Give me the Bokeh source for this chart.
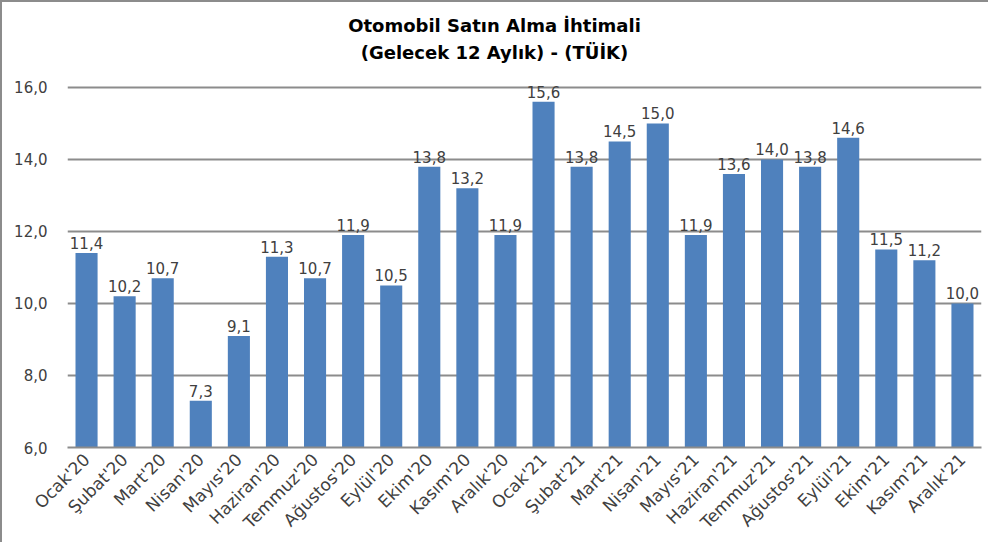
import math
from bokeh.plotting import figure
from bokeh.models import ColumnDataSource, LabelSet, Label, FixedTicker, CustomJSTickFormatter, Range1d
from bokeh.core.properties import value
from bokeh.embed import file_html
from bokeh.resources import INLINE

months = ["Ocak'20", "Şubat'20", "Mart'20", "Nisan'20", "Mayıs'20", "Haziran'20",
          "Temmuz'20", "Ağustos'20", "Eylül'20", "Ekim'20", "Kasım'20", "Aralık'20",
          "Ocak'21", "Şubat'21", "Mart'21", "Nisan'21", "Mayıs'21", "Haziran'21",
          "Temmuz'21", "Ağustos'21", "Eylül'21", "Ekim'21", "Kasım'21", "Aralık'21"]
values = [11.4, 10.2, 10.7, 7.3, 9.1, 11.3, 10.7, 11.9, 10.5, 13.8, 13.2, 11.9,
          15.6, 13.8, 14.5, 15.0, 11.9, 13.6, 14.0, 13.8, 14.6, 11.5, 11.2, 10.0]
y_ticks = [6, 8, 10, 12, 14, 16]
title_lines = ["Otomobil Satın Alma İhtimali", "(Gelecek 12 Aylık) - (TÜİK)"]

FONT = "DejaVu Sans"
TXT = "#404040"
GRID = "#8c8c8c"

labels = [f"{v:.1f}".replace(".", ",") for v in values]
src = ColumnDataSource(dict(x=months, top=values, lab=labels))

# frame extends up to the top of the figure so the title can sit inside it
p = figure(x_range=months, y_range=Range1d(6, 18.36), width=988, height=542,
           output_backend="svg", toolbar_location=None,
           min_border_left=65, min_border_right=9, min_border_top=0, min_border_bottom=97)
p.outline_line_color = None
p.vbar(x="x", top="top", bottom=6, width=0.58, source=src, color="#4F81BD", line_color=None)

p.add_layout(LabelSet(x="x", y="top", text="lab", source=src, text_align="center",
                      text_baseline="bottom", y_offset=4, text_font=value(FONT),
                      text_font_size="15px", text_color=TXT))

p.xgrid.grid_line_color = None
p.ygrid.grid_line_color = GRID
p.ygrid.grid_line_width = 2
p.yaxis.ticker = FixedTicker(ticks=y_ticks)
p.yaxis.formatter = CustomJSTickFormatter(code="return tick.toFixed(1).replace('.', ',');")
p.yaxis.axis_line_color = None
p.yaxis.major_tick_line_color = None
p.yaxis.minor_tick_line_color = None
p.yaxis.major_label_standoff = 14
p.xaxis.axis_line_color = GRID
p.xaxis.axis_line_width = 2
p.xaxis.major_tick_line_color = None
p.xaxis.minor_tick_line_color = None
p.xaxis.major_label_orientation = math.pi / 4
p.xaxis.major_label_standoff = 3
for ax in (p.xaxis, p.yaxis):
    ax.major_label_text_font = FONT
    ax.major_label_text_color = TXT
p.yaxis.major_label_text_font_size = "15px"
p.xaxis.major_label_text_font_size = "17px"

for txt, yy in zip(title_lines, [17.72, 16.97]):
    p.add_layout(Label(x=427, y=yy, x_units="screen", text=txt,
                       text_align="center", text_baseline="middle", text_font=FONT,
                       text_font_size="18px", text_font_style="bold", text_color="#000000"))

p.styles = {"border-top": "2px solid #8c8c8c", "border-left": "2px solid #8c8c8c"}

open("out.html", "w").write(file_html(p, INLINE))
